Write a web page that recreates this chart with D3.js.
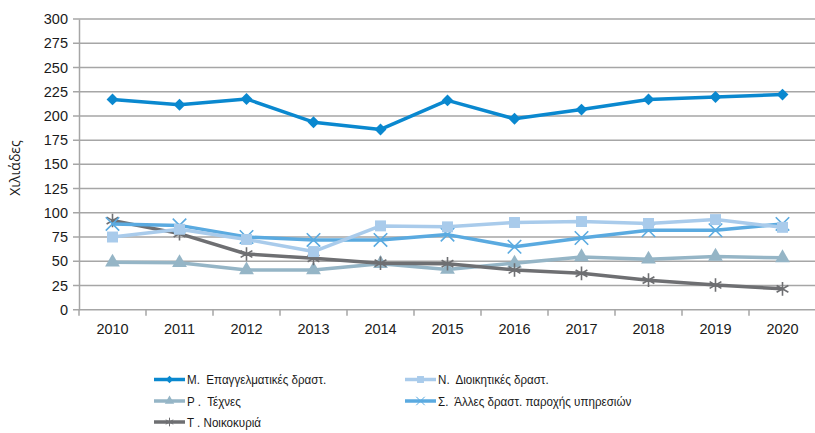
<!DOCTYPE html>
<html>
<head>
<meta charset="utf-8">
<script src="https://cdn.jsdelivr.net/npm/d3@7"></script>
<style>
  body { margin: 0; background: #fff; }
  svg text { fill: #1a1a1a; white-space: pre; }
</style>
</head>
<body>
<div id="chart"></div>
<script>
const years = ['2010', '2011', '2012', '2013', '2014', '2015', '2016', '2017', '2018', '2019', '2020']
const yTicks = [0, 25, 50, 75, 100, 125, 150, 175, 200, 225, 250, 275, 300]

const seriesM = [217, 211.5, 217.5, 193.5, 186, 216, 197, 206.5, 217, 219.5, 222]
const seriesN = [75, 83, 72.5, 60, 86.5, 85.5, 90, 91, 89, 93, 85]
const seriesP = [49, 48.5, 41, 41, 47.5, 41.5, 48, 54.5, 52, 55, 53.5]
const seriesS = [88.5, 87, 75, 72, 72, 77.5, 65, 74, 82, 82, 88.5]
const seriesT = [92, 78.5, 57.5, 53, 48, 47.5, 41, 37.5, 30.5, 25.5, 21.5]

const labels = {
    M: 'Μ.  Επαγγελματικές δραστ.',
    N: 'Ν.  Διοικητικές δραστ.',
    P: 'Ρ .  Τέχνες',
    S: 'Σ.  Άλλες δραστ. παροχής υπηρεσιών',
    T: 'Τ . Νοικοκυριά'
}

const width = 815
const height = 433
const margin = { left: 79, right: 0, top: 19, bottom: 124 }

const series = [
    { key: 'P', values: seriesP, color: '#95b5c6', marker: d3.symbolTriangle, size: 95, open: false },
    { key: 'T', values: seriesT, color: '#6e6f72', marker: d3.symbolAsterisk, size: 130, open: true },
    { key: 'S', values: seriesS, color: '#5aaae0', marker: d3.symbolTimes, size: 120, open: true },
    { key: 'N', values: seriesN, color: '#a9cbeb', marker: d3.symbolSquare, size: 120, open: false },
    { key: 'M', values: seriesM, color: '#0a88cf', marker: d3.symbolDiamond2, size: 90, open: false }
]

const svg = d3.select('#chart')
    .append('svg')
    .attr('width', width)
    .attr('height', height)
    .style('font-family', '"Open Sans", sans-serif')

const x = d3.scaleBand()
    .domain(years)
    .range([margin.left, 816])
const y = d3.scaleLinear()
    .domain([0, 300])
    .range([height - margin.bottom + 0.7, margin.top])

// Gridlines
svg.append('g')
    .selectAll('line')
    .data(yTicks)
    .join('line')
    .attr('x1', margin.left - 6)
    .attr('x2', width)
    .attr('y1', d => y(d))
    .attr('y2', d => y(d))
    .attr('stroke', '#a6a6a6')
    .attr('stroke-width', 1.5)

// Y-axis
const yAxis = d3.axisLeft(y).tickValues(yTicks).tickSize(0).tickPadding(11)
svg.append('g')
    .attr('transform', `translate(${margin.left}, 0)`)
    .call(yAxis)
    .call(g => g.select('.domain').attr('stroke', '#a6a6a6').attr('stroke-width', 1.5))
    .call(g => g.selectAll('text').attr('font-size', 14.5).attr('fill', '#1a1a1a'))

// X-axis
const xAxis = d3.axisBottom(x).tickSize(0).tickPadding(14)
svg.append('g')
    .attr('transform', `translate(0, ${y(0)})`)
    .call(xAxis)
    .call(g => g.select('.domain').remove())
    .call(g => g.selectAll('text').attr('font-size', 14.5).attr('fill', '#1a1a1a'))

svg.append('g')
    .selectAll('line')
    .data(years)
    .join('line')
    .attr('x1', d => x(d))
    .attr('x2', d => x(d))
    .attr('y1', y(0))
    .attr('y2', y(0) + 6)
    .attr('stroke', '#a6a6a6')
    .attr('stroke-width', 1.5)

svg.append('text')
    .attr('transform', `translate(20, 168) rotate(-90)`)
    .attr('text-anchor', 'middle')
    .attr('font-size', 14)
    .text('Χιλιάδες')

// Lines and markers
const line = d3.line()
    .x((d, i) => x(years[i]) + x.bandwidth() / 2)
    .y(d => y(d))

series.forEach(s => {
    const g = svg.append('g')
    g.append('path')
        .datum(s.values)
        .attr('d', line)
        .attr('fill', 'none')
        .attr('stroke', s.color)
        .attr('stroke-width', 3.5)
        .attr('stroke-linejoin', 'round')
    g.selectAll('path.mark')
        .data(s.values)
        .join('path')
        .attr('class', 'mark')
        .attr('transform', (d, i) => `translate(${x(years[i]) + x.bandwidth() / 2}, ${y(d)})`)
        .attr('d', d3.symbol().type(s.marker).size(s.size))
        .attr('fill', s.open ? 'none' : s.color)
        .attr('stroke', s.color)
        .attr('stroke-width', s.open ? 1.6 : 0)
})

// Legend
const legendItems = [
    { key: 'M', col: 0, row: 0 },
    { key: 'N', col: 1, row: 0 },
    { key: 'P', col: 0, row: 1 },
    { key: 'S', col: 1, row: 1 },
    { key: 'T', col: 0, row: 2 }
]
const legendX = [154, 405]
const legendY = [379.5, 401, 422]

legendItems.forEach(item => {
    const s = series.find(d => d.key === item.key)
    const lx = legendX[item.col]
    const ly = legendY[item.row]
    const g = svg.append('g')
    g.append('line')
        .attr('x1', lx)
        .attr('x2', lx + 31)
        .attr('y1', ly)
        .attr('y2', ly)
        .attr('stroke', s.color)
        .attr('stroke-width', 3.5)
    g.append('path')
        .attr('transform', `translate(${lx + 15.5}, ${ly})`)
        .attr('d', d3.symbol().type(s.marker).size(s.size * 0.4))
        .attr('fill', s.open ? 'none' : s.color)
        .attr('stroke', s.color)
        .attr('stroke-width', s.open ? 1 : 0)
    // narrow the label text horizontally to match the condensed face
    g.append('text')
        .attr('transform', `translate(${lx + 33}, ${ly}) scale(0.86, 1)`)
        .attr('dy', '0.35em')
        .attr('font-size', 13.5)
        .style('font-family', '"Liberation Sans", sans-serif')
        .text(labels[item.key])
})
</script>
</body>
</html>
